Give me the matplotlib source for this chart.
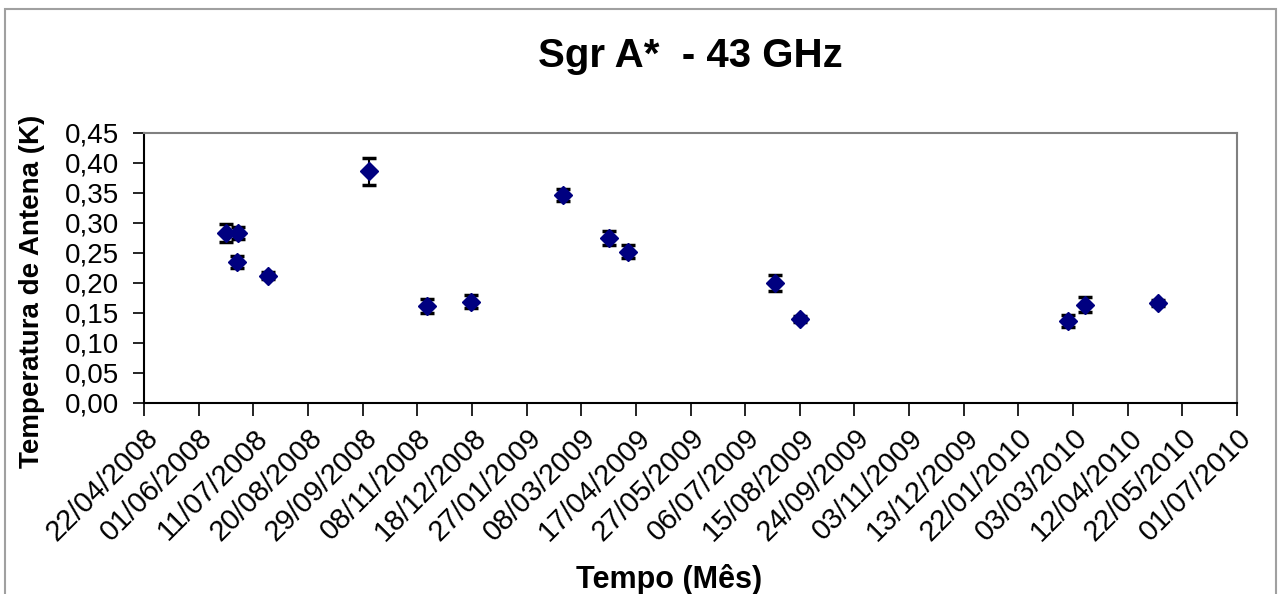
import datetime as dt
import matplotlib
matplotlib.use('Agg')
import matplotlib.pyplot as plt
from matplotlib.ticker import FuncFormatter
from matplotlib.patches import Rectangle

plt.rcParams['font.family'] = ['Liberation Sans', 'DejaVu Sans']

# observation dates and antenna temperature (K) with errors
obs_dates = ['21/06/2008', '30/06/2008', '29/06/2008', '22/07/2008', '04/10/2008',
             '15/11/2008', '17/12/2008', '23/02/2009', '28/03/2009', '11/04/2009',
             '28/07/2009', '15/08/2009', '27/02/2010', '12/03/2010', '04/05/2010']
temps = [0.283, 0.283, 0.235, 0.212, 0.386,
         0.162, 0.169, 0.347, 0.275, 0.252,
         0.200, 0.140, 0.136, 0.164, 0.166]
errs = [0.015, 0.010, 0.010, 0.006, 0.023,
        0.012, 0.011, 0.010, 0.012, 0.011,
        0.014, 0.005, 0.010, 0.013, 0.005]

tick_labels = ['22/04/2008', '01/06/2008', '11/07/2008', '20/08/2008', '29/09/2008',
               '08/11/2008', '18/12/2008', '27/01/2009', '08/03/2009', '17/04/2009',
               '27/05/2009', '06/07/2009', '15/08/2009', '24/09/2009', '03/11/2009',
               '13/12/2009', '22/01/2010', '03/03/2010', '12/04/2010', '22/05/2010',
               '01/07/2010']
y_ticks = [0.00, 0.05, 0.10, 0.15, 0.20, 0.25, 0.30, 0.35, 0.40, 0.45]

to_date = lambda s: dt.datetime.strptime(s, '%d/%m/%Y')
x = [to_date(d) for d in obs_dates]
xt = [to_date(d) for d in tick_labels]

W, H = 1283, 594
fig = plt.figure(figsize=(W / 100, H / 100), dpi=100)
ax = fig.add_axes([144 / W, (H - 403) / H, (1237 - 144) / W, (403 - 133) / H])

ax.errorbar(x, temps, yerr=errs, fmt='D', color='#000080', markersize=9,
            ecolor='black', elinewidth=1.5, capsize=5, capthick=2.5, zorder=3)

ax.set_xlim(xt[0], xt[-1])
ax.set_ylim(0, 0.45)
ax.set_xticks(xt)
ax.set_xticklabels(tick_labels, rotation=45, ha='right', rotation_mode='anchor', fontsize=21)
ax.set_yticks(y_ticks)
ax.yaxis.set_major_formatter(FuncFormatter(lambda v, p: f'{v:.2f}'.replace('.', ',')))
ax.tick_params(axis='y', labelsize=20, length=8, width=1.2, pad=10)
ax.tick_params(axis='x', length=9, width=1.2, pad=6)

for s in ['left', 'bottom']:
    ax.spines[s].set_color('black')
    ax.spines[s].set_linewidth(1.5)
for s in ['top', 'right']:
    ax.spines[s].set_color('#808080')
    ax.spines[s].set_linewidth(1.5)

fig.text(690 / W, 1 - 56 / H, 'Sgr A*  - 43 GHz', ha='center', va='center',
         fontsize=29, fontweight='bold')
fig.text(32 / W, 1 - 291 / H, 'Temperatura de Antena (K)', ha='center', va='center',
         rotation=90, fontsize=20, fontweight='bold')
fig.text(669 / W, 1 - 588 / H, 'Tempo (Mês)', ha='center', va='baseline',
         fontsize=22, fontweight='bold')

# chart area border
fig.patches.append(Rectangle((5 / W, -0.1), (1276 - 5) / W, 1.1 - 9 / H,
                             transform=fig.transFigure, fill=False,
                             edgecolor='#a0a0a0', linewidth=1.5))

fig.savefig('out.png', dpi=100)
